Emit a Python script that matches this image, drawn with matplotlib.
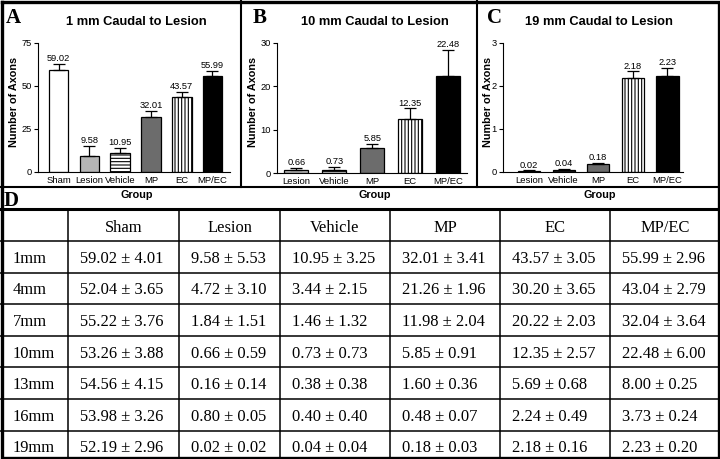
import matplotlib
matplotlib.use("Agg")
import matplotlib.pyplot as plt
import numpy as np

# ---------------- data ----------------
groups = ["Sham", "Lesion", "Vehicle", "MP", "EC", "MP/EC"]
distances = ["1mm", "4mm", "7mm", "10mm", "13mm", "16mm", "19mm"]

sham_mean = [59.02, 52.04, 55.22, 53.26, 54.56, 53.98, 52.19]
sham_sem = [4.01, 3.65, 3.76, 3.88, 4.15, 3.26, 2.96]
lesion_mean = [9.58, 4.72, 1.84, 0.66, 0.16, 0.80, 0.02]
lesion_sem = [5.53, 3.10, 1.51, 0.59, 0.14, 0.05, 0.02]
vehicle_mean = [10.95, 3.44, 1.46, 0.73, 0.38, 0.40, 0.04]
vehicle_sem = [3.25, 2.15, 1.32, 0.73, 0.38, 0.40, 0.04]
mp_mean = [32.01, 21.26, 11.98, 5.85, 1.60, 0.48, 0.18]
mp_sem = [3.41, 1.96, 2.04, 0.91, 0.36, 0.07, 0.03]
ec_mean = [43.57, 30.20, 20.22, 12.35, 5.69, 2.24, 2.18]
ec_sem = [3.05, 3.65, 2.03, 2.57, 0.68, 0.49, 0.16]
mpec_mean = [55.99, 43.04, 32.04, 22.48, 8.00, 3.73, 2.23]
mpec_sem = [2.96, 2.79, 3.64, 6.00, 0.25, 0.24, 0.20]

means = [sham_mean, lesion_mean, vehicle_mean, mp_mean, ec_mean, mpec_mean]
sems = [sham_sem, lesion_sem, vehicle_sem, mp_sem, ec_sem, mpec_sem]

panel_titles = ["1 mm Caudal to Lesion", "10 mm Caudal to Lesion", "19 mm Caudal to Lesion"]
panel_rows = [0, 3, 6]              # row in table
panel_first_group = [0, 1, 1]       # B and C omit Sham
panel_yticks = [[0, 25, 50, 75], [0, 10, 20, 30], [0, 1, 2, 3]]
panel_letters = ["A", "B", "C"]

# ---------------- styles ----------------
W, H = 720, 459
bar_styles = {
    "Sham": dict(color="white", hatch=None),
    "Lesion": dict(color="#b5b5b5", hatch=None),
    "Vehicle": dict(color="white", hatch="-----"),
    "MP": dict(color="#6c6c6c", hatch=None),
    "EC": dict(color="white", hatch="|||||"),
    "MP/EC": dict(color="black", hatch=None),
}
sans = ["Liberation Sans", "DejaVu Sans"]
serif = ["Liberation Serif", "DejaVu Serif"]
plt.rcParams["hatch.linewidth"] = 0.8

fig = plt.figure(figsize=(W / 100, H / 100), dpi=100)

def px_axes(left, top, right, bottom):
    return fig.add_axes([left / W, 1 - bottom / H, (right - left) / W, (bottom - top) / H])

# axes positions in pixels: left, top, right, bottom ; xlims
ax_boxes = [(38, 43, 230, 172), (277, 43, 467, 173), (503, 43, 683, 172)]
ax_xlims = [(-0.67, 5.57), (-0.51, 4.5), (-0.75, 4.45)]
title_x = [136, 375, 599]
ylabel_x = [14, 253, 488]
letter_x = [6, 253, 487]
group_x = [137, 375, 600]

for p in range(3):
    l, t, r, b = ax_boxes[p]
    ax = px_axes(l, t, r, b)
    row = panel_rows[p]
    g0 = panel_first_group[p]
    gnames = groups[g0:]
    vals = [means[g][row] for g in range(g0, len(groups))]
    errs = [sems[g][row] for g in range(g0, len(groups))]
    xs = np.arange(len(gnames))
    for i, name in enumerate(gnames):
        st = bar_styles[name]
        ax.bar(xs[i], vals[i], width=0.64, color=st["color"], edgecolor="black",
               linewidth=0.9, hatch=st["hatch"], zorder=2)
    ax.errorbar(xs, vals, yerr=[np.zeros(len(vals)), errs], fmt="none",
                ecolor="black", elinewidth=0.9, capsize=4, capthick=0.9, zorder=3)
    for i in range(len(vals)):
        ax.annotate(f"{vals[i]:.2f}", (xs[i], vals[i] + errs[i]), xytext=(0, 0.5),
                    textcoords="offset points", ha="center", va="bottom",
                    fontsize=6.7, family=sans)
    ymax = panel_yticks[p][-1]
    ax.set_ylim(0, ymax)
    ax.set_xlim(*ax_xlims[p])
    ax.set_yticks(panel_yticks[p])
    ax.set_yticklabels([str(v) for v in panel_yticks[p]], family=sans, fontsize=6.7)
    ax.set_xticks(xs)
    ax.set_xticklabels(gnames, family=sans, fontsize=6.8)
    ax.tick_params(axis="x", length=0, pad=3)
    ax.tick_params(axis="y", length=3, width=0.8, pad=1.5)
    for s in ["top", "right"]:
        ax.spines[s].set_visible(False)
    for s in ["left", "bottom"]:
        ax.spines[s].set_linewidth(0.8)
    ax.patch.set_alpha(0)

    fig.text(title_x[p] / W, 1 - 22 / H, panel_titles[p], ha="center", va="center",
             fontsize=9.3, fontweight="bold", family=sans)
    fig.text(ylabel_x[p] / W, 1 - 102 / H, "Number of Axons", ha="center", va="center",
             rotation=90, fontsize=7.8, fontweight="bold", family=sans)
    fig.text(letter_x[p] / W, 1 - 23 / H, panel_letters[p], ha="left", va="baseline",
             fontsize=15, fontweight="bold", family=serif)
    fig.text(group_x[p] / W, 1 - 195 / H, "Group", ha="center", va="center",
             fontsize=7.8, fontweight="bold", family=sans)

# ---------------- overlay: borders and table ----------------
ov = fig.add_axes([0, 0, 1, 1], zorder=-1)
ov.set_xlim(0, W)
ov.set_ylim(H, 0)
ov.axis("off")

# panel borders
ov.plot([241, 241], [0, 187], color="black", lw=1.5)
ov.plot([477, 477], [0, 187], color="black", lw=1.5)
ov.plot([0, W], [187, 187], color="black", lw=1.5)
ov.plot([0, W], [209, 209], color="black", lw=2.2)
fig.text(4 / W, 1 - 206 / H, "D", ha="left", va="baseline", fontsize=15,
         fontweight="bold", family=serif)

col_edges = [0, 68, 179, 280, 390, 500, 610, 720]
row_edges = [209, 241] + [241 + 31.6 * (i + 1) for i in range(6)] + [459]
for x in col_edges[1:-1]:
    ov.plot([x, x], [209, H], color="black", lw=1.1)
for y in row_edges[1:-1]:
    ov.plot([0, W], [y, y], color="black", lw=1.1)

fs_tab = 11.9
# header
for j, g in enumerate(groups):
    cx = (col_edges[j + 1] + col_edges[j + 2]) / 2
    cy = (row_edges[0] + row_edges[1]) / 2 + 1
    ov.text(cx, cy, g, ha="center", va="center_baseline", fontsize=fs_tab, family=serif)
# rows
for i, d in enumerate(distances):
    cy = 241 + 31.6 * (i + 0.5)
    ov.text(13, cy, d, ha="left", va="center_baseline", fontsize=fs_tab, family=serif)
    for j in range(len(groups)):
        ov.text(col_edges[j + 1] + 12, cy, f"{means[j][i]:.2f} \u00b1 {sems[j][i]:.2f}",
                ha="left", va="center_baseline", fontsize=fs_tab, family=serif)

# outer border
ov.plot([1.5, W - 1.5, W - 1.5, 1.5, 1.5], [1.5, 1.5, H - 1.5, H - 1.5, 1.5],
        color="black", lw=2.4, solid_joinstyle="miter")

fig.savefig("out.png", dpi=100)
